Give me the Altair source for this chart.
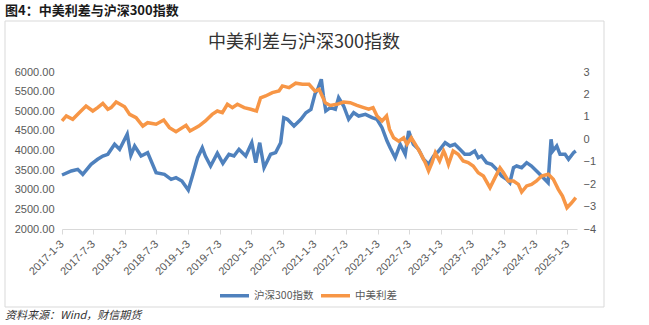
import altair as alt
import pandas as pd

series_names = ["沪深300指数", "中美利差"]
series_colors = ["#4F81BD", "#F79646"]

hs_dates = [
    "2017-01-03", "2017-02-26", "2017-04-04", "2017-05-03", "2017-06-20", "2017-07-28",
    "2017-08-27", "2017-09-25", "2017-11-03", "2017-12-02", "2018-01-15", "2018-02-05",
    "2018-02-27", "2018-04-05", "2018-05-13", "2018-07-01", "2018-08-18", "2018-09-26",
    "2018-10-24", "2018-11-27", "2019-01-03", "2019-01-27", "2019-02-26", "2019-03-25",
    "2019-04-12", "2019-05-12", "2019-06-20", "2019-07-22", "2019-08-26", "2019-09-24",
    "2019-10-23", "2019-12-01", "2020-01-05", "2020-01-28", "2020-02-20", "2020-03-16",
    "2020-04-23", "2020-05-22", "2020-06-20", "2020-07-08", "2020-07-29", "2020-09-05",
    "2020-10-15", "2020-11-13", "2020-12-12", "2021-01-05", "2021-01-20", "2021-02-10",
    "2021-02-22", "2021-03-08", "2021-04-03", "2021-05-02", "2021-05-21", "2021-06-19",
    "2021-07-18", "2021-08-16", "2021-09-14", "2021-10-23", "2021-12-01", "2021-12-29",
    "2022-01-27", "2022-02-25", "2022-03-15", "2022-04-13", "2022-05-12", "2022-06-10",
    "2022-06-30", "2022-07-27", "2022-08-26", "2022-09-24", "2022-10-23", "2022-11-21",
    "2022-12-20", "2023-01-27", "2023-02-24", "2023-03-24", "2023-04-22", "2023-05-20",
    "2023-06-18", "2023-07-17", "2023-08-06", "2023-08-25", "2023-09-23", "2023-10-22",
    "2023-11-20", "2023-12-19", "2024-01-17", "2024-02-05", "2024-02-26", "2024-03-15",
    "2024-04-13", "2024-05-12", "2024-06-09", "2024-07-08", "2024-07-27", "2024-08-16",
    "2024-09-13", "2024-09-30", "2024-10-10", "2024-11-02", "2024-11-21", "2024-12-20",
    "2025-01-09", "2025-02-07", "2025-02-20",
]
hs_values = [
    3376, 3478, 3520, 3393, 3648, 3776,
    3860, 3903, 4158, 4030, 4413, 3878,
    4115, 3860, 3945, 3436, 3393, 3266,
    3307, 3223, 2994, 3350, 3817, 4072,
    3860, 3605, 3929, 3674, 3903, 3860,
    4030, 3860, 4199, 3690, 4199, 3562,
    3903, 3945, 4199, 4836, 4795, 4624,
    4795, 4963, 5048, 5450, 5560, 5815,
    5390, 5007, 5091, 5048, 5346, 5134,
    4795, 4963, 4879, 4922, 4836, 4795,
    4581, 4242, 4072, 3817, 4158, 3903,
    4497, 4158, 4030, 3776, 3648, 3860,
    3987, 4199, 4115, 4158, 4030, 3903,
    3903, 3987, 3817, 3860, 3690, 3648,
    3521, 3350, 3266, 3180, 3562, 3605,
    3562, 3690, 3605, 3478, 3393, 3307,
    3180, 4285, 3987, 4115, 3903, 3903,
    3776, 3945, 3987,
]

sp_dates = [
    "2017-01-03", "2017-01-28", "2017-03-06", "2017-04-14", "2017-05-22", "2017-06-30",
    "2017-07-28", "2017-08-27", "2017-09-25", "2017-10-14", "2017-11-12", "2017-12-31",
    "2018-01-29", "2018-03-07", "2018-04-15", "2018-05-13", "2018-07-01", "2018-08-14",
    "2018-09-16", "2018-10-24", "2018-12-21", "2019-01-13", "2019-03-05", "2019-04-12",
    "2019-05-21", "2019-06-20", "2019-07-19", "2019-08-17", "2019-09-15", "2019-10-14",
    "2019-11-22", "2019-12-30", "2020-02-01", "2020-02-25", "2020-03-25", "2020-05-03",
    "2020-06-10", "2020-06-30", "2020-08-07", "2020-09-15", "2020-10-24", "2020-12-01",
    "2021-01-05", "2021-01-28", "2021-02-15", "2021-03-05", "2021-04-03", "2021-05-11",
    "2021-06-19", "2021-07-27", "2021-09-04", "2021-10-13", "2021-11-11", "2021-12-06",
    "2021-12-29", "2022-01-27", "2022-02-22", "2022-03-11", "2022-04-04", "2022-05-03",
    "2022-06-01", "2022-06-20", "2022-07-15", "2022-08-07", "2022-09-05", "2022-10-04",
    "2022-10-23", "2022-11-12", "2022-12-01", "2022-12-26", "2023-01-18", "2023-01-27",
    "2023-02-15", "2023-03-14", "2023-04-12", "2023-05-11", "2023-06-09", "2023-07-08",
    "2023-08-06", "2023-09-05", "2023-10-13", "2023-11-11", "2023-12-10", "2023-12-30",
    "2024-01-27", "2024-02-26", "2024-03-25", "2024-04-13", "2024-05-12", "2024-06-09",
    "2024-07-08", "2024-08-06", "2024-09-14", "2024-10-13", "2024-11-11", "2024-12-05",
    "2024-12-31", "2025-01-27", "2025-02-20",
]
sp_values = [
    0.82, 1.04, 0.89, 1.19, 1.48, 1.26,
    1.41, 1.60, 1.34, 1.41, 1.66, 1.45,
    1.11, 0.96, 0.59, 0.74, 0.67, 0.86,
    0.52, 0.34, 0.62, 0.37, 0.59, 0.82,
    1.11, 1.26, 1.19, 1.56, 1.41, 1.56,
    1.41, 1.34, 1.26, 1.85, 1.93, 2.08,
    2.15, 2.38, 2.30, 2.50, 2.45, 2.45,
    2.15, 2.23, 1.93, 1.63, 1.51, 1.56,
    1.66, 1.63, 1.51, 1.41, 1.34, 1.41,
    1.04, 0.82, 1.04, 0.45, 0.07, -0.08,
    0.07, -0.22, 0.07, -0.22, -0.60, -1.04,
    -1.41, -1.04, -0.60, -0.97, -0.52, -0.67,
    -1.12, -0.52, -0.67, -0.97, -1.04, -1.19,
    -1.49, -1.64, -2.16, -1.71, -1.27, -1.49,
    -1.86, -1.86, -2.01, -2.35, -2.08, -2.01,
    -1.86, -1.64, -1.56, -1.78, -2.23, -2.53,
    -3.05, -2.83, -2.60,
]

x_tick_dates = [
    (2017, 1), (2017, 7), (2018, 1), (2018, 7), (2019, 1), (2019, 7),
    (2020, 1), (2020, 7), (2021, 1), (2021, 7), (2022, 1), (2022, 7),
    (2023, 1), (2023, 7), (2024, 1), (2024, 7), (2025, 1),
]
left_ticks = [2000, 2500, 3000, 3500, 4000, 4500, 5000, 5500, 6000]
right_ticks = [-4, -3, -2, -1, 0, 1, 2, 3]

main_title = "中美利差与沪深300指数"
fig_title = "图4：中美利差与沪深300指数"
source_text = "资料来源：Wind，财信期货"

hs = pd.DataFrame({"date": hs_dates, "value": hs_values, "series": series_names[0]})
sp = pd.DataFrame({"date": sp_dates, "value": sp_values, "series": series_names[1]})
one = pd.DataFrame({"k": [0]})

axis_font = "Liberation Sans"
cjk_font = "Noto Sans CJK SC"
label_color = "#595959"

x_enc = alt.X(
    "date:T",
    scale=alt.Scale(
        type="utc",
        domain=[alt.DateTime(year=2017, month=1, date=3, utc=True),
                alt.DateTime(year=2025, month=2, date=27, utc=True)],
    ),
    axis=alt.Axis(
        title=None,
        values=[alt.DateTime(year=y, month=m, date=3, utc=True) for y, m in x_tick_dates],
        labelExpr="utcFormat(datum.value, '%Y-%-m-%-d')",
        labelAngle=-45,
        labelAlign="right",
        labelBaseline="middle",
        labelPadding=8,
        labelOverlap=False,
        labelFlush=False,
        tickSize=5,
        tickColor="#d9d9d9",
        domainColor="#d9d9d9",
        grid=False,
        labelFont=axis_font,
        labelFontSize=11,
        labelColor=label_color,
    ),
)

color_enc = alt.Color(
    "series:N",
    scale=alt.Scale(domain=series_names, range=series_colors),
    sort=series_names,
    legend=alt.Legend(
        title=None,
        orient="none",
        direction="horizontal",
        legendX=156,
        legendY=207,
        symbolType="stroke",
        symbolSize=841,
        symbolStrokeWidth=3.5,
        labelFont=cjk_font,
        labelFontSize=10.5,
        labelColor=label_color,
        labelOffset=3,
        columnPadding=0,
        padding=0,
    ),
)

blue = alt.Chart(hs).mark_line(strokeWidth=3.5).encode(
    x=x_enc,
    y=alt.Y(
        "value:Q",
        scale=alt.Scale(domain=[2000, 6000], nice=False, zero=False),
        axis=alt.Axis(
            title=None, orient="left", values=left_ticks, format=".2f",
            ticks=False, domain=False, grid=False, labelPadding=8,
            labelFont=axis_font, labelFontSize=11, labelColor=label_color,
        ),
    ),
    color=color_enc,
)

orange = alt.Chart(sp).mark_line(strokeWidth=3.5).encode(
    x=x_enc,
    y=alt.Y(
        "value:Q",
        scale=alt.Scale(domain=[-4, 3], nice=False, zero=False),
        axis=alt.Axis(
            title=None, orient="right", values=right_ticks, format="d",
            ticks=False, domain=False, grid=False, labelPadding=6,
            labelFont=axis_font, labelFontSize=11, labelColor=label_color,
        ),
    ),
    color=color_enc,
)

box = alt.Chart(one).mark_rect(fillOpacity=0, stroke="#d9d9d9", strokeWidth=1).encode(
    x=alt.value(-57), x2=alt.value(542), y=alt.value(-51), y2=alt.value(235)
)

fig_t = alt.Chart(one).mark_text(
    text=fig_title, align="left", baseline="middle", font=cjk_font,
    fontSize=13, fontWeight="bold", color="#1a1a1a",
).encode(x=alt.value(-57), y=alt.value(-61))

main_t = alt.Chart(one).mark_text(
    text=main_title, align="center", baseline="middle", font=cjk_font,
    fontSize=18, color="#333333",
).encode(x=alt.value(242), y=alt.value(-29))

src_t = alt.Chart(one).mark_text(
    text=source_text, align="left", baseline="middle", font=cjk_font,
    fontSize=11, fontStyle="italic", color="#333333",
).encode(x=alt.value(-57), y=alt.value(244))

chart = (
    alt.layer(box, blue, orange, fig_t, main_t, src_t)
    .resolve_scale(y="independent")
    .properties(
        width=515,
        height=157,
        autosize=alt.AutoSizeParams(type="none"),
        padding={"left": 62, "top": 72, "right": 72, "bottom": 96},
        background="white",
    )
    .configure_view(stroke=None)
)

chart.save("out.html", embed_options={"renderer": "svg", "actions": False})
